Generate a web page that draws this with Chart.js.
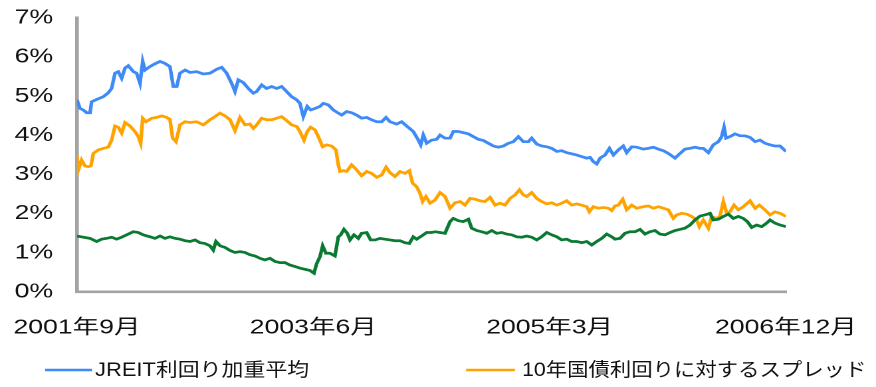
<!DOCTYPE html>
<html lang="ja">
<head>
<meta charset="utf-8">
<script src="https://cdn.jsdelivr.net/npm/chart.js@4.4.1/dist/chart.umd.min.js"></script>
<style>
  html, body { margin: 0; padding: 0; background: #fff; overflow: hidden; }
  /* the chart is laid out narrow and widened horizontally */
  #wrap { width: 659px; height: 387px; transform: scaleX(1.3293); transform-origin: 0 0; }
  canvas { display: block; }
</style>
</head>
<body>
<div id="wrap"><canvas id="yieldChart" width="659" height="387"></canvas></div>
<script>
// x positions are months counted from September 2001 (0) to December 2006 (63)
const tickMonths = [0, 21, 42, 63];
const tickLabels = ['2001年9月', '2003年6月', '2005年3月', '2006年12月'];

const seriesNames = ['JREIT利回り加重平均', '10年国債利回りに対するスプレッド', '10年国債利回り'];

// JREIT weighted average yield (%)
const jreitX = [0, 0.27, 0.56, 0.86, 1.16, 1.30, 1.75, 2.34, 2.78, 3.08, 3.38, 3.67, 3.97, 4.27, 4.56, 5.01, 5.30, 5.60, 5.84, 6.04,
  6.49, 6.93, 7.38, 7.82, 8.26, 8.56, 8.86, 9.15, 9.60, 10.04, 10.63, 11.23, 11.82, 12.41, 12.86, 13.30, 13.74, 14.04, 14.34, 14.78,
  15.23, 15.67, 15.96, 16.41, 16.85, 17.30, 17.74, 18.18, 18.63, 19.07, 19.52, 19.81, 20.11, 20.46, 20.76, 21.15, 21.59, 21.89, 22.33, 22.78,
  23.22, 23.52, 23.96, 24.40, 24.85, 25.29, 25.74, 26.18, 26.63, 27.07, 27.46, 27.81, 28.40, 28.85, 29.29, 29.88, 30.33, 30.54, 30.77, 31.07,
  31.51, 31.96, 32.26, 32.70, 33.15, 33.44, 33.89, 34.33, 34.78, 35.22, 35.67, 36.11, 36.55, 37.00, 37.44, 37.89, 38.33, 38.78, 39.22, 39.66,
  40.11, 40.40, 40.85, 41.29, 41.74, 42.18, 42.63, 43.07, 43.51, 43.96, 44.40, 44.85, 45.29, 45.59, 45.88, 46.18, 46.48, 46.92, 47.31, 47.66,
  48.10, 48.54, 48.84, 49.29, 49.73, 50.32, 50.77, 51.21, 51.66, 52.10, 52.54, 53.14, 53.58, 54.02, 54.47, 54.91, 55.36, 55.65, 56.10, 56.54,
  56.99, 57.28, 57.49, 57.67, 58.02, 58.47, 58.91, 59.36, 59.80, 60.25, 60.69, 61.13, 61.58, 62.02, 62.47, 63];
const jreitY = [4.91, 4.69, 4.65, 4.58, 4.58, 4.86, 4.92, 4.99, 5.09, 5.20, 5.59, 5.63, 5.46, 5.72, 5.78, 5.63, 5.59, 5.33, 5.89, 5.67,
  5.76, 5.83, 5.89, 5.84, 5.76, 5.25, 5.25, 5.59, 5.67, 5.61, 5.63, 5.57, 5.59, 5.69, 5.74, 5.59, 5.33, 5.12, 5.42, 5.35,
  5.20, 5.08, 5.12, 5.29, 5.20, 5.25, 5.20, 5.25, 5.12, 4.99, 4.91, 4.82, 4.48, 4.74, 4.65, 4.69, 4.74, 4.82, 4.78, 4.65,
  4.57, 4.52, 4.61, 4.58, 4.52, 4.44, 4.46, 4.40, 4.35, 4.35, 4.46, 4.35, 4.29, 4.35, 4.24, 4.10, 3.88, 3.76, 4.01, 3.80,
  3.88, 3.90, 4.01, 3.93, 3.93, 4.10, 4.10, 4.07, 4.04, 3.97, 3.90, 3.87, 3.80, 3.73, 3.70, 3.73, 3.80, 3.84, 3.97, 3.84,
  3.84, 3.93, 3.78, 3.73, 3.71, 3.67, 3.59, 3.61, 3.56, 3.53, 3.50, 3.46, 3.42, 3.44, 3.33, 3.27, 3.42, 3.50, 3.67, 3.50,
  3.63, 3.73, 3.56, 3.71, 3.70, 3.65, 3.67, 3.70, 3.65, 3.61, 3.54, 3.42, 3.54, 3.65, 3.67, 3.70, 3.67, 3.67, 3.56, 3.76,
  3.84, 3.97, 4.21, 3.93, 3.97, 4.04, 3.99, 3.99, 3.95, 3.84, 3.88, 3.80, 3.76, 3.73, 3.73, 3.59];

// spread over the 10-year JGB yield (%)
const spreadX = [0, 0.12, 0.41, 0.71, 1.01, 1.24, 1.45, 1.90, 2.34, 2.78, 3.08, 3.38, 3.67, 3.97, 4.27, 4.71, 5.15, 5.45, 5.66, 5.84,
  6.13, 6.64, 7.08, 7.52, 7.97, 8.26, 8.50, 8.80, 9.15, 9.60, 10.04, 10.63, 11.23, 11.82, 12.26, 12.71, 13.15, 13.60, 14.04, 14.48,
  14.93, 15.37, 15.67, 15.96, 16.41, 16.85, 17.30, 17.74, 18.18, 18.63, 19.07, 19.52, 19.81, 20.17, 20.46, 20.76, 21.15, 21.44, 21.83, 22.18,
  22.63, 23.01, 23.22, 23.37, 23.66, 23.96, 24.40, 24.85, 25.29, 25.74, 26.18, 26.63, 27.07, 27.46, 27.81, 28.25, 28.70, 29.14, 29.53, 29.82,
  30.18, 30.48, 30.71, 31.01, 31.37, 31.81, 32.26, 32.70, 33.15, 33.59, 34.04, 34.48, 34.92, 35.37, 35.81, 36.26, 36.70, 37.15, 37.59, 38.03,
  38.48, 38.92, 39.31, 39.66, 39.96, 40.40, 40.85, 41.29, 41.74, 42.18, 42.63, 43.07, 43.51, 43.96, 44.40, 44.85, 45.29, 45.53, 45.88, 46.33,
  46.77, 47.22, 47.51, 47.81, 48.10, 48.49, 48.84, 49.29, 49.73, 50.32, 50.77, 51.21, 51.66, 52.10, 52.54, 52.99, 53.28, 53.73, 54.17, 54.62,
  55.06, 55.30, 55.65, 56.10, 56.39, 56.78, 57.13, 57.43, 57.73, 58.02, 58.38, 58.76, 59.21, 59.80, 60.25, 60.63, 61.13, 61.58, 62.02, 62.47, 63];
const spreadY = [3.50, 3.12, 3.37, 3.22, 3.20, 3.22, 3.54, 3.63, 3.67, 3.70, 3.88, 4.24, 4.21, 4.06, 4.33, 4.24, 4.10, 3.97, 3.80, 4.44,
  4.35, 4.44, 4.46, 4.50, 4.46, 4.41, 3.93, 3.84, 4.27, 4.35, 4.33, 4.35, 4.27, 4.40, 4.48, 4.57, 4.50, 4.40, 4.12, 4.46,
  4.27, 4.29, 4.18, 4.27, 4.44, 4.40, 4.40, 4.44, 4.48, 4.38, 4.27, 4.23, 4.10, 3.88, 4.10, 4.21, 4.14, 3.97, 3.71, 3.76,
  3.73, 3.63, 3.25, 3.08, 3.10, 3.08, 3.25, 3.12, 2.97, 3.08, 3.03, 2.93, 2.99, 3.19, 3.05, 2.95, 3.08, 3.03, 3.10, 2.78,
  2.69, 2.52, 2.31, 2.44, 2.27, 2.35, 2.54, 2.44, 2.14, 2.28, 2.31, 2.22, 2.39, 2.37, 2.33, 2.31, 2.42, 2.22, 2.27, 2.22,
  2.39, 2.48, 2.61, 2.48, 2.44, 2.54, 2.39, 2.31, 2.25, 2.28, 2.22, 2.27, 2.33, 2.22, 2.25, 2.22, 2.18, 2.05, 2.18, 2.14,
  2.16, 2.14, 2.08, 2.20, 2.22, 2.37, 2.10, 2.22, 2.14, 2.18, 2.20, 2.14, 2.18, 2.14, 2.10, 1.88, 1.97, 2.01, 1.99, 1.93,
  1.84, 1.67, 1.84, 1.63, 1.93, 1.88, 1.93, 2.31, 2.01, 2.05, 2.22, 2.10, 2.18, 2.33, 2.14, 2.22, 2.10, 1.97, 2.05, 2.01, 1.93];

// 10-year JGB yield (%)
const jgbX = [0, 0.56, 1.16, 1.75, 2.19, 2.64, 3.08, 3.52, 3.97, 4.41, 5.01, 5.45, 5.89, 6.49, 6.93, 7.38, 7.82, 8.26, 8.71, 9.15,
  9.60, 10.04, 10.49, 10.93, 11.37, 11.82, 12.11, 12.35, 12.71, 13.15, 13.60, 14.04, 14.48, 14.93, 15.37, 15.82, 16.26, 16.70, 17.15, 17.59,
  18.04, 18.48, 18.92, 19.37, 19.81, 20.26, 20.70, 21.06, 21.29, 21.59, 21.83, 22.12, 22.48, 22.92, 23.22, 23.43, 23.72, 24.02, 24.26, 24.61,
  25.00, 25.29, 25.74, 26.09, 26.48, 26.92, 27.37, 27.81, 28.25, 28.70, 29.14, 29.53, 29.88, 30.18, 30.62, 31.07, 31.51, 31.81, 32.26, 32.70,
  33.15, 33.44, 33.89, 34.33, 34.78, 35.07, 35.52, 35.96, 36.41, 36.85, 37.29, 37.74, 38.18, 38.63, 39.07, 39.52, 39.96, 40.40, 40.85, 41.29,
  41.74, 42.18, 42.63, 43.07, 43.51, 43.96, 44.40, 44.85, 45.29, 45.74, 46.18, 46.62, 47.07, 47.51, 47.80, 48.25, 48.69, 49.14, 49.58, 50.03,
  50.47, 50.91, 51.36, 51.80, 52.25, 52.69, 53.14, 53.58, 54.02, 54.47, 54.91, 55.36, 55.80, 56.25, 56.54, 56.99, 57.43, 57.88, 58.32, 58.76,
  59.21, 59.56, 59.95, 60.39, 60.84, 61.28, 61.58, 62.02, 62.47, 63];
const jgbY = [1.43, 1.40, 1.37, 1.29, 1.35, 1.37, 1.40, 1.35, 1.40, 1.46, 1.54, 1.52, 1.46, 1.41, 1.37, 1.43, 1.37, 1.41, 1.37, 1.35,
  1.31, 1.29, 1.33, 1.26, 1.24, 1.18, 1.07, 1.29, 1.18, 1.14, 1.06, 1.01, 1.03, 1.01, 0.95, 0.92, 0.86, 0.82, 0.86, 0.78,
  0.75, 0.75, 0.69, 0.65, 0.61, 0.58, 0.55, 0.48, 0.72, 0.90, 1.18, 0.99, 0.99, 0.92, 1.41, 1.46, 1.60, 1.50, 1.33, 1.46,
  1.37, 1.50, 1.52, 1.33, 1.33, 1.37, 1.35, 1.33, 1.31, 1.31, 1.26, 1.24, 1.41, 1.35, 1.43, 1.52, 1.52, 1.54, 1.52, 1.50,
  1.80, 1.88, 1.82, 1.80, 1.86, 1.63, 1.57, 1.54, 1.50, 1.57, 1.50, 1.52, 1.48, 1.46, 1.41, 1.40, 1.43, 1.40, 1.33, 1.41,
  1.52, 1.46, 1.41, 1.33, 1.35, 1.29, 1.29, 1.26, 1.29, 1.20, 1.29, 1.37, 1.48, 1.41, 1.35, 1.37, 1.50, 1.54, 1.54, 1.60,
  1.48, 1.54, 1.57, 1.48, 1.46, 1.52, 1.57, 1.60, 1.63, 1.71, 1.84, 1.94, 1.97, 2.01, 1.84, 1.86, 1.93, 1.99, 1.88, 1.93,
  1.88, 1.80, 1.65, 1.71, 1.67, 1.76, 1.84, 1.76, 1.71, 1.67];

const seriesColors = ['#3e8af6', '#ffa300', '#0a7a33'];
const FONT = "'Liberation Sans', 'Noto Sans CJK JP', Arial, sans-serif";

// fixed plot frame in layout pixels
const frame = { left: 57.9, top: 18, right: 591.3, bottom: 292 };
let yAxisWidth = frame.left;

function toPoints(xs, ys) {
  return xs.map((x, i) => ({ x: x, y: ys[i] }));
}

// Legend row under the axis; only the first two series are listed
const bottomLegend = {
  id: 'bottomLegend',
  afterDraw(chart) {
    const ctx = chart.ctx;
    const rowY = 370;
    const slots = [
      { lineFrom: 33.9, lineTo: 69.2, textX: 71.5, textWidth: 161 },
      { lineFrom: 350.6, lineTo: 387.4, textX: 392.7, textWidth: 259 }
    ];
    ctx.save();
    ctx.font = '19px ' + FONT;
    ctx.textBaseline = 'middle';
    ctx.textAlign = 'left';
    slots.forEach((slot, i) => {
      const ds = chart.data.datasets[i];
      ctx.strokeStyle = ds.borderColor;
      ctx.lineWidth = 2.6;
      ctx.beginPath();
      ctx.moveTo(slot.lineFrom, rowY);
      ctx.lineTo(slot.lineTo, rowY);
      ctx.stroke();
      ctx.fillStyle = '#111';
      ctx.fillText(ds.label, slot.textX, rowY + 1, slot.textWidth);
    });
    ctx.restore();
  }
};

const chart = new Chart(document.getElementById('yieldChart'), {
  type: 'line',
  data: {
    datasets: [
      { label: seriesNames[0], data: toPoints(jreitX, jreitY), borderColor: seriesColors[0], order: 2 },
      { label: seriesNames[1], data: toPoints(spreadX, spreadY), borderColor: seriesColors[1], order: 1 },
      { label: seriesNames[2], data: toPoints(jgbX, jgbY), borderColor: seriesColors[2], order: 0 }
    ]
  },
  options: {
    responsive: false,
    devicePixelRatio: 2,
    animation: false,
    events: [],
    elements: {
      line: { borderWidth: 2.7, tension: 0, fill: false },
      point: { radius: 0 }
    },
    layout: { padding: { top: 18, right: 67.7, bottom: 47, left: 0 } },
    plugins: {
      legend: { display: false },
      tooltip: { enabled: false }
    },
    scales: {
      x: {
        type: 'linear',
        min: 0,
        max: 63,
        grid: { display: false, drawTicks: false },
        border: { display: true, color: '#a3a3a3', width: 2.6 },
        afterBuildTicks(scale) {
          scale.ticks = tickMonths.map(v => ({ value: v }));
        },
        afterFit(scale) {
          scale.height = 48;
          // edge labels may overhang; the layout padding reserves room
          scale.paddingLeft = 0;
          scale.paddingRight = 0;
        },
        ticks: {
          autoSkip: false,
          maxRotation: 0,
          padding: 24,
          color: '#111',
          font: { family: FONT, size: 20 },
          callback: (v) => tickLabels[tickMonths.indexOf(v)]
        }
      },
      y: {
        min: 0,
        max: 7,
        grid: { display: false, drawTicks: false },
        border: { display: true, color: '#a3a3a3', width: 2.8 },
        afterFit(scale) {
          scale.width = yAxisWidth;
          scale.paddingTop = 0;
          scale.paddingBottom = 0;
        },
        ticks: {
          stepSize: 1,
          padding: 18,
          color: '#111',
          font: { family: FONT, size: 20 },
          callback: (v) => v + '%'
        }
      }
    }
  },
  plugins: [bottomLegend]
});

// nudge axis width and paddings until the plot area sits on the frame
for (let pass = 0; pass < 3; pass++) {
  const area = chart.chartArea;
  const pad = chart.options.layout.padding;
  const dl = area.left - frame.left;
  const dt = area.top - frame.top;
  const dr = area.right - frame.right;
  const db = area.bottom - frame.bottom;
  if (Math.abs(dl) + Math.abs(dt) + Math.abs(dr) + Math.abs(db) < 0.2) break;
  yAxisWidth = Math.min(80, Math.max(40, yAxisWidth - dl));
  pad.top = Math.max(0, pad.top - dt);
  pad.right = Math.max(0, pad.right + dr);
  pad.bottom = Math.max(0, pad.bottom + db);
  chart.update();
}
</script>
</body>
</html>
